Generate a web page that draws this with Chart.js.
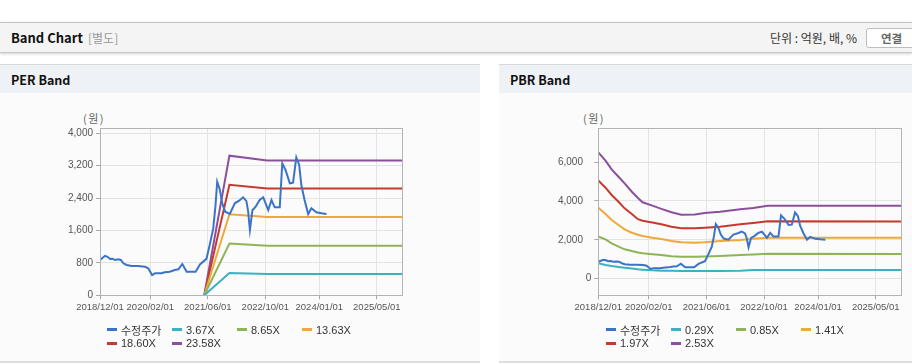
<!DOCTYPE html>
<html><head><meta charset="utf-8">
<script src="https://cdn.jsdelivr.net/npm/chart.js@4.4.1/dist/chart.umd.min.js"></script>
<style>
html,body{margin:0;padding:0}
body{width:912px;height:364px;overflow:hidden;background:#fff;position:relative;font-family:"Noto Sans CJK KR","Liberation Sans",sans-serif;color:#222}
.hdr{position:absolute;left:0;top:22px;width:912px;height:29px;background:#f4f4f4;border-top:1px solid #c2c2c2;border-bottom:1px solid #c9c9c9;box-shadow:0 1px 3px rgba(0,0,0,0.18)}
.hdr .t{position:absolute;left:11px;top:0;line-height:29px;font-size:13px;font-weight:bold;color:#111}
.hdr .s{position:absolute;left:88px;top:0;line-height:29px;font-size:12px;color:#999}
.hdr .u{position:absolute;left:770px;top:0;line-height:29px;font-size:12px;color:#333}
.hdr .b{position:absolute;left:866px;top:5px;width:52px;height:18px;border:1px solid #bdbdbd;border-radius:3px;background:#fff;font-size:11.5px;font-weight:bold;color:#666;line-height:18px;padding-left:14px;box-sizing:content-box}
.panel{position:absolute;top:64px;height:296px;background:#fbfbfb;border-top:1px solid #d9d9d9;border-bottom:2px solid #dedede}
.panel .ph{height:28px;background:#eef1f6;font-size:12.5px;font-weight:bold;line-height:29px;padding-left:11px;color:#111}
.unit{position:absolute;top:110px;font-size:11px;color:#666;letter-spacing:1.5px}
.cw{position:absolute;top:93px;height:230px}
.lg{position:absolute;top:323px;display:grid;grid-template-columns:65px 65px 65px 65px;grid-auto-rows:13.5px;font-family:"Liberation Sans","Noto Sans CJK KR",sans-serif;font-size:11px;color:#333}
.lg div{display:flex;align-items:center;white-space:nowrap}
.lg span.sw{display:inline-block;width:10px;height:3px;margin-right:4px}
</style>
</head><body>
<div class="hdr"><span class="t">Band Chart</span><span class="s">[별도]</span><span class="u">단위 : 억원, 배, %</span><span class="b">연결</span></div>
<div class="panel" style="left:0;width:480px"><div class="ph">PER Band</div></div>
<div class="panel" style="left:499px;width:413px"><div class="ph">PBR Band</div></div>
<div class="unit" style="left:83px">(원)</div>
<div class="unit" style="left:583px">(원)</div>
<div class="cw" style="left:0;width:480px"><canvas id="per"></canvas></div>
<div class="cw" style="left:499px;width:413px"><canvas id="pbr"></canvas></div>
<div class="lg" id="perLg" style="left:107px"></div>
<div class="lg" id="pbrLg" style="left:606px"></div>
<script>
// x axis: months since 2018/12/01
const xTickMonths = [0, 14, 30, 46, 61, 77];
const xTickLabels = ['2018/12/01', '2020/02/01', '2021/06/01', '2022/10/01', '2024/01/01', '2025/05/01'];
const xMaxMonth = 84;

// adjusted stock price (수정주가)
const priceMonths = [0, 1.4, 2.1, 2.8, 3.4, 4.2, 5.1, 5.8, 6.5, 7.4, 8.8, 10.6, 12.5, 13.4, 14.5, 15.3, 17.1, 18, 19.4, 20.8, 21.8, 22.9, 24.1, 26.6, 27.8, 29.6, 30.4, 31.5, 32.1, 32.6, 33.3, 34, 34.8, 36.1, 37.5, 38.7, 39.8, 40.7, 41.2, 41.7, 42.4, 43.3, 44.4, 45.4, 46.8, 47.7, 48.6, 50, 50.7, 51.6, 52.8, 53.7, 54.6, 55.4, 56, 56.9, 57.9, 58.8, 60.2, 61.6, 63];
const priceValues = [870, 975, 950, 896, 904, 872, 889, 872, 790, 748, 723, 723, 706, 667, 501, 543, 543, 568, 583, 625, 642, 773, 583, 583, 760, 900, 1200, 1650, 2188, 2805, 2620, 2271, 2064, 2010, 2271, 2336, 2420, 2330, 2080, 1612, 2100, 2188, 2353, 2420, 2106, 2353, 2173, 2173, 3259, 3094, 2765, 2780, 3407, 3217, 2723, 2353, 2007, 2148, 2049, 2024, 2007];

// PER bands
const perBandMonths = [29, 36, 46.5, 84];
const per367 = [0, 550, 525, 525];
const per865 = [0, 1280, 1225, 1225];
const per1363 = [0, 2000, 1935, 1935];
const per1860 = [0, 2730, 2635, 2635];
const per2358 = [0, 3447, 3330, 3325];
const perLabels = ['수정주가', '3.67X', '8.65X', '13.63X', '18.60X', '23.58X'];
const perYTicks = [0, 800, 1600, 2400, 3200, 4000];

// PBR bands
const pbrBandMonths = [0, 2, 3.7, 5.6, 7.3, 9.3, 11, 12.3, 15, 17.5, 20.3, 23, 26.8, 29.5, 33.8, 39.4, 43, 47, 84];
const pbr029 = [790, 704, 650, 600, 560, 520, 483, 465, 430, 411, 405, 400, 400, 400, 400, 405, 450, 450, 445];
const pbr085 = [2170, 2025, 1820, 1650, 1511, 1420, 1350, 1306, 1260, 1218, 1160, 1131, 1131, 1140, 1167, 1218, 1250, 1280, 1275];
const pbr141 = [3650, 3326, 3018, 2761, 2540, 2365, 2260, 2195, 2108, 2041, 1940, 1871, 1851, 1870, 1938, 1990, 2050, 2108, 2108];
const pbr197 = [5050, 4678, 4303, 3959, 3619, 3326, 3060, 2982, 2895, 2797, 2673, 2591, 2591, 2622, 2673, 2797, 2864, 2950, 2940];
const pbr253 = [6500, 6066, 5624, 5244, 4905, 4473, 4150, 3928, 3760, 3590, 3420, 3285, 3300, 3375, 3445, 3568, 3635, 3753, 3753];
const pbrLabels = ['수정주가', '0.29X', '0.85X', '1.41X', '1.97X', '2.53X'];
const pbrYTicks = [0, 2000, 4000, 6000];

const colors = ['#3b74c6', '#3bb2c4', '#8fb457', '#f0a83a', '#c63a2e', '#8c4f9c'];

function pts(xs, ys) { return xs.map((x, i) => ({ x: x, y: ys[i] })); }

const borderPlugin = {
  id: 'plotBorder',
  afterDraw(chart) {
    const a = chart.chartArea, c = chart.ctx;
    c.save();
    c.strokeStyle = '#b3b3b3';
    c.lineWidth = 1;
    c.strokeRect(Math.round(a.left) + 0.5, Math.round(a.top) + 0.5, Math.round(a.right - a.left), Math.round(a.bottom - a.top));
    c.restore();
  }
};

function makeChart(id, lgId, labels, series, yMin, yMax, yTicks, yWidth, padRight, labelFmt) {
  const datasets = series.map((s, i) => ({
    label: labels[i], data: s, borderColor: colors[i], backgroundColor: colors[i],
    borderWidth: 2, pointRadius: 0, tension: 0, fill: false
  }));
  const ch = new Chart(document.getElementById(id), {
    type: 'line',
    data: { datasets },
    options: {
      responsive: true, maintainAspectRatio: false, animation: false,
      layout: { padding: { left: 0, top: 35.3, right: padRight, bottom: 5.7 } },
      plugins: { legend: { display: false }, tooltip: { enabled: false } },
      scales: {
        x: {
          type: 'linear', min: 0, max: xMaxMonth,
          afterBuildTicks: s => { s.ticks = xTickMonths.map(v => ({ value: v })); },
          afterFit: s => { s.height = 22; },
          ticks: { autoSkip: false, maxRotation: 0, padding: 2, color: '#555',
            font: { family: 'Liberation Sans', size: 9.5 },
            callback: (v, i) => xTickLabels[i] },
          grid: { color: '#e4e4e4', tickColor: '#a8a8a8', tickLength: 4 },
          border: { color: '#aaaaaa', width: 1 }
        },
        y: {
          min: yMin, max: yMax,
          afterBuildTicks: s => { s.ticks = yTicks.map(v => ({ value: v })); },
          afterFit: s => { s.width = yWidth; },
          ticks: { padding: 3, color: '#555', font: { family: 'Liberation Sans', size: 10 },
            callback: labelFmt },
          grid: { color: '#e4e4e4', tickColor: '#a8a8a8', tickLength: 4 },
          border: { color: '#aaaaaa', width: 1 }
        }
      }
    },
    plugins: [borderPlugin]
  });
  const lg = document.getElementById(lgId);
  datasets.forEach(d => {
    const it = document.createElement('div');
    const sw = document.createElement('span'); sw.className = 'sw'; sw.style.background = d.borderColor;
    it.appendChild(sw); it.appendChild(document.createTextNode(d.label));
    lg.appendChild(it);
  });
  return ch;
}

makeChart('per', 'perLg', perLabels, [
  pts(priceMonths, priceValues), pts(perBandMonths, per367), pts(perBandMonths, per865),
  pts(perBandMonths, per1363), pts(perBandMonths, per1860), pts(perBandMonths, per2358)
], 0, 4123, perYTicks, 100, 78, v => v.toLocaleString('en-US'));

makeChart('pbr', 'pbrLg', pbrLabels, [
  pts(priceMonths, priceValues), pts(pbrBandMonths, pbr029), pts(pbrBandMonths, pbr085),
  pts(pbrBandMonths, pbr141), pts(pbrBandMonths, pbr197), pts(pbrBandMonths, pbr253)
], -853, 7733, pbrYTicks, 99.3, 11, v => v === 0 ? '0' : v.toLocaleString('en-US') + '   ');
</script>
</body></html>
